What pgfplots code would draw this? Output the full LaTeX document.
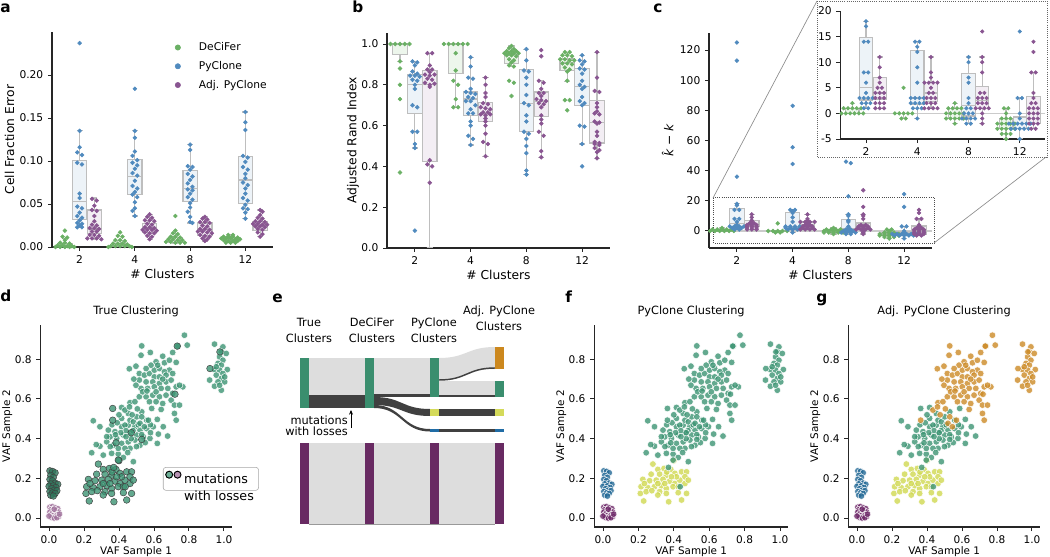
\documentclass[border=0pt]{standalone}
\usepackage{fontspec}
\setmainfont{DejaVu Sans}
\usepackage{pgfplots}
\pgfplotsset{compat=1.18}
\usepackage{pgfplotstable}
\usepgfplotslibrary{statistics}
\usetikzlibrary{arrows.meta}

\definecolor{cG}{RGB}{106,176,100}
\definecolor{cB}{RGB}{80,138,190}
\definecolor{cP}{RGB}{137,85,145}
\definecolor{boxgray}{RGB}{190,190,190}
\definecolor{sGreen}{RGB}{60,148,115}
\definecolor{sPurple}{RGB}{110,40,105}
\definecolor{sBlue}{RGB}{35,105,150}
\definecolor{sYellow}{RGB}{208,216,80}
\definecolor{sOrange}{RGB}{204,138,38}
\definecolor{kGreen}{RGB}{58,142,110}
\definecolor{kPurple}{RGB}{104,42,98}
\definecolor{kYellow}{RGB}{212,218,90}
\definecolor{kBlue}{RGB}{32,108,165}
\definecolor{kOrange}{RGB}{204,136,30}
\definecolor{kLight}{RGB}{221,221,221}
\definecolor{kDark}{RGB}{64,64,64}

\newcommand\fT{\fontsize{8}{9.5}\selectfont}
\newcommand\fL{\fontsize{9.2}{10.5}\selectfont}
\newcommand\fTb{\fontsize{7.9}{9}\selectfont}
\newcommand\fLb{\fontsize{7.8}{9}\selectfont}

\pgfplotsset{
 swb/.style={
  scale only axis, anchor=south west,
  axis x line*=bottom, axis y line*=left,
  axis line style={black!85, line width=0.8pt, -},
  tick align=outside, major tick length=3pt,
  tick style={black!85, line width=0.7pt},
  tick label style={font=\fT},
  label style={font=\fL},
  xlabel shift=-3pt,
  /pgf/number format/assume math mode=true,
 },
 cat/.style={xmin=-0.5,xmax=3.5, xtick={0,1,2,3}, xticklabels={2,4,8,12}, xlabel={\# Clusters}},
 vaf/.style={swb, xmin=-0.05, xmax=1.046, ymin=-0.045, ymax=0.971,
  xtick={0,0.2,0.4,0.6,0.8,1.0}, ytick={0,0.2,0.4,0.6,0.8},
  xticklabel style={/pgf/number format/.cd,fixed,fixed zerofill,precision=1},
  yticklabel style={/pgf/number format/.cd,fixed,fixed zerofill,precision=1},
  tick label style={font=\fTb}, label style={font=\fLb},
  xlabel shift=-4.5pt, ylabel shift=-5pt,
  title style={font=\fontsize{8.5}{10}\selectfont, yshift=-3pt},
  xlabel={VAF Sample 1}, ylabel={VAF Sample 2}},
}

% box: position, lw, q1, med, q3, uw, fill
\newcommand\bx[7]{\addplot[boxplot prepared={draw direction=y,draw position=#1,lower whisker=#2,lower quartile=#3,median=#4,upper quartile=#5,upper whisker=#6,box extend=0.26,whisker extend=0.11}, draw=boxgray, fill=#7, line width=0.9pt] coordinates {};}
% swarm: table, hue offset, colour, size
\newcommand\sw[4]{\addplot[#3, only marks, mark=*, mark size=#4, mark options={solid, fill=#3, draw=none}] table[x expr={\thisrow{c}+(#2)+0.085*\thisrow{d}}, y=y] {#1};}
% scatter: table, fill, edge
\newcommand\scat[3]{\addplot[only marks, mark=*, mark size=2.5pt, mark options={fill=#2, fill opacity=0.8, draw=#3, line width=0.35pt}] table[x=x,y=y] {#1};}
\newcommand\rect[5]{\addplot[fill=#5, draw=none] coordinates {(#1,#2) (#3,#2) (#3,#4) (#1,#4)};}
\newcommand\lgdot[1]{\addlegendimage{legend image code/.code={\fill[#1] (0cm,0cm) circle (2pt); \path (0.48cm,0cm);}}}

% ---------------- panel a data
\pgfplotstableread[row sep=\\]{c d y\\
0 0 0.019\\ 0 -0.5 0.012\\ 0 0.5 0.011\\ 0 0 0.008\\ 0 -1 0.005\\ 0 0 0.005\\ 0 1 0.004\\ 0 -1.5 0.002\\ 0 -0.5 0.002\\ 0 0.5 0.001\\ 0 1.5 0.001\\ 0 -2 0.000\\ 0 -1 0.000\\ 0 0 0.000\\ 0 1 0.000\\ 0 2 0.000\\
1 0 0.017\\ 1 -0.5 0.013\\ 1 0.5 0.012\\ 1 -1 0.008\\ 1 0 0.008\\ 1 1 0.007\\ 1 -1.5 0.004\\ 1 -0.5 0.004\\ 1 0.5 0.004\\ 1 1.5 0.003\\ 1 -2 0.001\\ 1 -1 0.001\\ 1 0 0.001\\ 1 1 0.001\\ 1 2 0.001\\ 1 -2.5 0.000\\ 1 2.5 0.000\\
2 0 0.036\\ 2 0 0.019\\ 2 -0.5 0.016\\ 2 0.5 0.015\\ 2 -1 0.012\\ 2 0 0.012\\ 2 1 0.011\\ 2 -1.5 0.009\\ 2 -0.5 0.009\\ 2 0.5 0.008\\ 2 1.5 0.008\\ 2 -2 0.006\\ 2 -1 0.006\\ 2 0 0.005\\ 2 1 0.005\\ 2 2 0.005\\
3 -0.5 0.014\\ 3 0.5 0.014\\ 3 -1.5 0.012\\ 3 -0.5 0.012\\ 3 0.5 0.012\\ 3 1.5 0.011\\ 3 -2 0.010\\ 3 -1 0.010\\ 3 0 0.010\\ 3 1 0.009\\ 3 2 0.009\\ 3 -1.5 0.008\\ 3 -0.5 0.007\\ 3 0.5 0.007\\ 3 1.5 0.007\\ 3 -1 0.005\\ 3 0 0.005\\ 3 1 0.005\\
}\aG
\pgfplotstableread[row sep=\\]{c d y\\
0 0 0.237\\ 0 0 0.135\\ 0 0 0.116\\ 0 -0.5 0.110\\ 0 0.5 0.107\\ 0 -0.5 0.098\\ 0 0.5 0.096\\ 0 0 0.062\\ 0 0 0.057\\ 0 -0.5 0.047\\ 0 0.5 0.045\\ 0 0 0.040\\ 0 -0.5 0.036\\ 0 0.5 0.034\\ 0 0 0.031\\ 0 -0.5 0.028\\ 0 0.5 0.027\\ 0 0 0.025\\ 0 -0.5 0.023\\ 0 0.5 0.023\\
1 0 0.184\\ 1 0 0.135\\ 1 0 0.127\\ 1 0 0.111\\ 1 -0.5 0.106\\ 1 0.5 0.101\\ 1 -0.5 0.098\\ 1 0.5 0.095\\ 1 0 0.091\\ 1 -0.5 0.086\\ 1 0.5 0.083\\ 1 0 0.077\\ 1 -0.5 0.071\\ 1 0.5 0.068\\ 1 0 0.064\\ 1 -0.5 0.061\\ 1 0.5 0.058\\ 1 0 0.052\\ 1 0 0.045\\ 1 -0.5 0.042\\ 1 0 0.036\\
2 0 0.119\\ 2 0 0.113\\ 2 -0.5 0.094\\ 2 0.5 0.093\\ 2 0 0.090\\ 2 -0.5 0.085\\ 2 0.5 0.082\\ 2 0 0.078\\ 2 -0.5 0.074\\ 2 0.5 0.070\\ 2 -0.5 0.067\\ 2 0.5 0.066\\ 2 0 0.062\\ 2 -0.5 0.058\\ 2 0.5 0.055\\ 2 0 0.051\\ 2 0 0.046\\ 2 -0.5 0.041\\ 2 0 0.035\\ 2 0 0.029\\ 2 0.5 0.028\\
3 0 0.157\\ 3 0 0.145\\ 3 0 0.136\\ 3 -0.5 0.106\\ 3 0.5 0.104\\ 3 0 0.099\\ 3 -0.5 0.093\\ 3 0.5 0.090\\ 3 0 0.085\\ 3 0 0.080\\ 3 -0.5 0.075\\ 3 0.5 0.072\\ 3 0 0.068\\ 3 0 0.062\\ 3 -0.5 0.057\\ 3 0.5 0.054\\ 3 0 0.049\\ 3 -0.5 0.045\\ 3 0.5 0.044\\ 3 0 0.040\\ 3 0 0.033\\
}\aB
\pgfplotstableread[row sep=\\]{c d y\\
0 -0.5 0.056\\ 0 0.5 0.054\\ 0 0 0.048\\ 0 -0.5 0.043\\ 0 0.5 0.042\\ 0 0 0.036\\ 0 0 0.030\\ 0 -0.5 0.026\\ 0 0.5 0.025\\ 0 -1 0.022\\ 0 0 0.022\\ 0 1 0.021\\ 0 -0.5 0.018\\ 0 0.5 0.018\\ 0 -1 0.014\\ 0 0 0.014\\ 0 1 0.013\\ 0 -1.5 0.010\\ 0 -0.5 0.010\\ 0 0.5 0.010\\ 0 1.5 0.009\\
1 0 0.038\\ 1 -0.5 0.035\\ 1 0.5 0.034\\ 1 -1 0.031\\ 1 0 0.031\\ 1 1 0.030\\ 1 -0.5 0.027\\ 1 0.5 0.026\\ 1 -1 0.023\\ 1 0 0.023\\ 1 1 0.022\\ 1 -1.5 0.020\\ 1 -0.5 0.020\\ 1 0.5 0.020\\ 1 1.5 0.019\\ 1 -1 0.017\\ 1 0 0.016\\ 1 1 0.016\\ 1 -0.5 0.013\\ 1 0.5 0.012\\ 1 0 0.009\\
2 0 0.035\\ 2 -0.5 0.033\\ 2 0.5 0.032\\ 2 -1 0.029\\ 2 0 0.029\\ 2 1 0.028\\ 2 -0.5 0.025\\ 2 0.5 0.024\\ 2 -1 0.021\\ 2 0 0.021\\ 2 1 0.020\\ 2 -1.5 0.018\\ 2 -0.5 0.018\\ 2 0.5 0.017\\ 2 1.5 0.016\\ 2 -1 0.014\\ 2 0 0.013\\ 2 1 0.012\\ 2 -0.5 0.010\\ 2 0.5 0.009\\ 2 0 0.007\\
3 0 0.043\\ 3 0.5 0.041\\ 3 0 0.037\\ 3 -0.5 0.034\\ 3 0.5 0.033\\ 3 -1 0.030\\ 3 0 0.030\\ 3 1 0.029\\ 3 -1.5 0.027\\ 3 -0.5 0.027\\ 3 0.5 0.026\\ 3 1.5 0.026\\ 3 -1 0.024\\ 3 0 0.024\\ 3 1 0.023\\ 3 -0.5 0.021\\ 3 0.5 0.020\\ 3 -0.5 0.017\\ 3 0.5 0.015\\ 3 0 0.012\\
}\aP
% ---------------- panel b data
\pgfplotstableread[row sep=\\]{c d y\\
0 -2 1.0\\ 0 -1 1.0\\ 0 0 1.0\\ 0 1 1.0\\ 0 2 1.0\\ 0 0 0.915\\ 0 0 0.88\\ 0 0 0.80\\ 0 0 0.73\\ 0 0 0.37\\
1 -2.5 1.0\\ 1 -1.5 1.0\\ 1 -0.5 1.0\\ 1 0.5 1.0\\ 1 1.5 1.0\\ 1 2.5 1.0\\ 1 0 0.955\\ 1 0 0.87\\ 1 -0.5 0.82\\ 1 0.5 0.80\\ 1 0 0.73\\ 1 -0.5 0.69\\ 1 0.5 0.69\\
2 0 0.99\\ 2 -0.5 0.98\\ 2 0.5 0.975\\ 2 -1 0.965\\ 2 0 0.965\\ 2 1 0.965\\ 2 -1.5 0.955\\ 2 -0.5 0.955\\ 2 0.5 0.955\\ 2 1.5 0.955\\ 2 -1 0.945\\ 2 0 0.945\\ 2 1 0.94\\ 2 -0.5 0.925\\ 2 0.5 0.92\\ 2 0 0.91\\ 2 -0.5 0.895\\ 2 0.5 0.89\\ 2 -0.5 0.82\\ 2 0.5 0.81\\ 2 0 0.745\\
3 -0.5 0.96\\ 3 0.5 0.96\\ 3 -1 0.945\\ 3 0 0.945\\ 3 1 0.94\\ 3 -1.5 0.925\\ 3 -0.5 0.925\\ 3 0.5 0.92\\ 3 1.5 0.92\\ 3 -1 0.905\\ 3 0 0.905\\ 3 1 0.90\\ 3 -0.5 0.885\\ 3 0.5 0.875\\ 3 0 0.865\\ 3 0 0.82\\ 3 -0.5 0.725\\ 3 0.5 0.725\\ 3 0 0.675\\
}\bG
\pgfplotstableread[row sep=\\]{c d y\\
0 -0.5 0.915\\ 0 0.5 0.91\\ 0 0 0.895\\ 0 -0.5 0.865\\ 0 0.5 0.855\\ 0 -1 0.845\\ 0 0 0.845\\ 0 1 0.84\\ 0 -0.5 0.825\\ 0 0.5 0.82\\ 0 0 0.80\\ 0 0 0.78\\ 0 -0.5 0.70\\ 0 0.5 0.69\\ 0 -0.5 0.57\\ 0 0.5 0.57\\ 0 0 0.51\\ 0 0 0.49\\ 0 0 0.085\\
1 0 0.935\\ 1 0 0.89\\ 1 -0.5 0.835\\ 1 0.5 0.83\\ 1 0 0.78\\ 1 -1 0.765\\ 1 0 0.76\\ 1 1 0.755\\ 1 -0.5 0.74\\ 1 0.5 0.735\\ 1 -1 0.72\\ 1 0 0.72\\ 1 1 0.70\\ 1 0 0.68\\ 1 -0.5 0.66\\ 1 0.5 0.66\\ 1 0 0.62\\ 1 0 0.60\\ 1 -0.5 0.55\\ 1 0.5 0.535\\ 1 0 0.505\\
2 0 0.975\\ 2 0 0.92\\ 2 -0.5 0.87\\ 2 0.5 0.865\\ 2 0 0.835\\ 2 0 0.80\\ 2 0 0.75\\ 2 -0.5 0.71\\ 2 0.5 0.70\\ 2 0 0.65\\ 2 0 0.62\\ 2 -0.5 0.57\\ 2 0.5 0.56\\ 2 0 0.535\\ 2 0 0.50\\ 2 0 0.465\\ 2 0 0.38\\ 2 0 0.36\\
3 0 0.945\\ 3 -0.5 0.92\\ 3 0.5 0.915\\ 3 0 0.90\\ 3 -0.5 0.88\\ 3 0.5 0.875\\ 3 0 0.855\\ 3 0 0.82\\ 3 -0.5 0.80\\ 3 0.5 0.79\\ 3 0 0.78\\ 3 0 0.74\\ 3 -0.5 0.72\\ 3 0.5 0.71\\ 3 0 0.70\\ 3 -0.5 0.60\\ 3 0.5 0.595\\ 3 0 0.51\\ 3 0 0.40\\
}\bB
\pgfplotstableread[row sep=\\]{c d y\\
0 -0.5 0.955\\ 0 0.5 0.955\\ 0 0 0.895\\ 0 -0.5 0.875\\ 0 0.5 0.875\\ 0 0 0.862\\ 0 -1 0.85\\ 0 0 0.845\\ 0 1 0.85\\ 0 -0.5 0.83\\ 0 0.5 0.825\\ 0 -1 0.81\\ 0 0 0.80\\ 0 1 0.805\\ 0 0 0.79\\ 0 0 0.43\\ 0 -0.5 0.41\\ 0 0.5 0.40\\ 0 0 0.32\\
1 0 0.835\\ 1 0 0.80\\ 1 0 0.76\\ 1 0 0.74\\ 1 -0.5 0.71\\ 1 0.5 0.705\\ 1 -1 0.69\\ 1 0 0.685\\ 1 1 0.68\\ 1 -0.5 0.665\\ 1 0.5 0.665\\ 1 -1 0.655\\ 1 0 0.65\\ 1 1 0.655\\ 1 0 0.635\\ 1 0 0.62\\ 1 0 0.60\\ 1 0 0.56\\ 1 -0.5 0.52\\ 1 0.5 0.51\\ 1 0 0.45\\
2 0 0.97\\ 2 0 0.94\\ 2 -0.5 0.82\\ 2 0.5 0.81\\ 2 0 0.78\\ 2 -0.5 0.76\\ 2 0.5 0.76\\ 2 0 0.745\\ 2 -1 0.73\\ 2 0 0.725\\ 2 1 0.72\\ 2 -0.5 0.71\\ 2 0.5 0.705\\ 2 0 0.69\\ 2 0 0.65\\ 2 0 0.63\\ 2 0 0.61\\ 2 -0.5 0.57\\ 2 0.5 0.55\\ 2 0 0.475\\ 2 0 0.445\\
3 0 0.96\\ 3 0 0.835\\ 3 -0.5 0.77\\ 3 0.5 0.765\\ 3 0 0.71\\ 3 0 0.69\\ 3 0 0.67\\ 3 -0.5 0.66\\ 3 0.5 0.655\\ 3 -0.5 0.62\\ 3 0.5 0.615\\ 3 0 0.61\\ 3 0 0.57\\ 3 0 0.55\\ 3 -0.5 0.52\\ 3 0.5 0.515\\ 3 -0.5 0.51\\ 3 0.5 0.505\\ 3 -0.5 0.49\\ 3 0.5 0.48\\ 3 0 0.47\\ 3 0 0.44\\
}\bP
% ---------------- panel c data
\pgfplotstableread[row sep=\\]{c d y\\
0 0 2\\ 0 -2 1\\ 0 -1 1\\ 0 0 1\\ 0 1 1\\ 0 2 1\\ 0 -2.5 0\\ 0 -1.5 0\\ 0 -0.5 0\\ 0 0.5 0\\ 0 1.5 0\\ 0 2.5 0\\
1 0 5\\ 1 -2 0\\ 1 -1 0\\ 1 0 0\\ 1 1 0\\ 1 2 0\\ 1 -0.5 -1\\ 1 0.5 -1\\
2 0 2\\ 2 -1.5 1\\ 2 -0.5 1\\ 2 0.5 1\\ 2 1.5 1\\ 2 -2 0\\ 2 -1 0\\ 2 0 0\\ 2 1 0\\ 2 2 0\\ 2 -2 -1\\ 2 -1 -1\\ 2 0 -1\\ 2 1 -1\\ 2 2 -1\\ 2 0 -2\\
3 -0.5 1\\ 3 0.5 1\\ 3 0 0\\ 3 -1 -1\\ 3 0 -1\\ 3 1 -1\\ 3 -2 -2\\ 3 -1 -2\\ 3 0 -2\\ 3 1 -2\\ 3 2 -2\\ 3 -2 -3\\ 3 -1 -3\\ 3 0 -3\\ 3 1 -3\\ 3 2 -3\\ 3 -1 -4\\ 3 0 -4\\ 3 1 -4\\ 3 0 -5\\
}\cGt
\pgfplotstableread[row sep=\\]{c d y\\
0 0 125\\ 0 0 113\\ 0 0 36\\ 0 0 18\\ 0 0 17\\ 0 -0.5 14\\ 0 0.5 14\\ 0 -0.5 8\\ 0 0.5 8\\ 0 0 6\\ 0 0 4\\ 0 -1.5 3\\ 0 -0.5 3\\ 0 0.5 3\\ 0 1.5 3\\ 0 -1 2\\ 0 0 2\\ 0 1 2\\ 0 -0.5 1\\ 0 0.5 1\\
1 0 83\\ 1 0 55.5\\ 1 0 44.4\\ 1 -0.5 14\\ 1 0.5 14\\ 1 0 13\\ 1 0 12\\ 1 0 9\\ 1 0 6\\ 1 -1.5 3\\ 1 -0.5 3\\ 1 0.5 3\\ 1 1.5 3\\ 1 -1.5 2\\ 1 -0.5 2\\ 1 0.5 2\\ 1 1.5 2\\ 1 -1 1\\ 1 0 1\\ 1 1 1\\ 1 0 -1\\
2 -0.5 46\\ 2 0.5 45\\ 2 0 23\\ 2 0 11\\ 2 0 10\\ 2 0 7\\ 2 0 6\\ 2 0 3\\ 2 0 2\\ 2 -0.5 1\\ 2 0.5 1\\ 2 -1 0\\ 2 0 0\\ 2 1 0\\ 2 -1.5 -1\\ 2 -0.5 -1\\ 2 0.5 -1\\ 2 1.5 -1\\ 2 -0.5 -2\\ 2 0.5 -2\\
3 0 24.4\\ 3 0 16\\ 3 -0.5 3\\ 3 0.5 3\\ 3 0 0\\ 3 0 -1\\ 3 -2.5 -2\\ 3 -1.5 -2\\ 3 -0.5 -2\\ 3 0.5 -2\\ 3 1.5 -2\\ 3 2.5 -2\\ 3 -2 -3\\ 3 -1 -3\\ 3 0 -3\\ 3 1 -3\\ 3 2 -3\\ 3 0 -5\\
}\cBt
\pgfplotstableread[row sep=\\]{c d y\\
0 0 11\\ 0 0 9\\ 0 0 7\\ 0 0 6\\ 0 -0.5 5\\ 0 0.5 5\\ 0 -1 4\\ 0 0 4\\ 0 1 4\\ 0 -1 3\\ 0 0 3\\ 0 1 3\\ 0 -1 2\\ 0 0 2\\ 0 1 2\\ 0 -1 1\\ 0 0 1\\ 0 1 1\\
1 0 11\\ 1 0 8\\ 1 0 7\\ 1 -1.5 6\\ 1 -0.5 6\\ 1 0.5 6\\ 1 1.5 6\\ 1 0 5\\ 1 -0.5 4\\ 1 0.5 4\\ 1 -1 3\\ 1 0 3\\ 1 1 3\\ 1 -1 2\\ 1 0 2\\ 1 1 2\\ 1 -1.5 1\\ 1 -0.5 1\\ 1 0.5 1\\ 1 1.5 1\\
2 0 27\\ 2 0 16\\ 2 0 11\\ 2 0 10\\ 2 0 8\\ 2 -0.5 4\\ 2 0.5 4\\ 2 -1 3\\ 2 0 3\\ 2 1 3\\ 2 -1 2\\ 2 0 2\\ 2 1 2\\ 2 -1.5 1\\ 2 -0.5 1\\ 2 0.5 1\\ 2 1.5 1\\ 2 0 0\\ 2 0 -1\\ 2 0 -2\\
3 0 14\\ 3 0 12\\ 3 -0.5 8\\ 3 0.5 8\\ 3 0 4\\ 3 0 3\\ 3 -0.5 2\\ 3 0.5 2\\ 3 -1 1\\ 3 0 1\\ 3 1 1\\ 3 -1 0\\ 3 0 0\\ 3 1 0\\ 3 -1 -1\\ 3 0 -1\\ 3 1 -1\\ 3 -1 -2\\ 3 0 -2\\ 3 1 -2\\ 3 -0.5 -3\\ 3 0.5 -3\\
}\cPt
% ---------------- scatter data (VAF sample 1, VAF sample 2)
\pgfplotstableread[row sep=\\]{x y\\
0.005 0.055\\ 0.020 0.058\\ 0.035 0.052\\ 0.050 0.047\\ 0.010 0.042\\ 0.025 0.040\\ 0.040 0.037\\ 0.055 0.030\\ 0.005 0.030\\ 0.020 0.027\\ 0.035 0.024\\ 0.050 0.018\\ 0.010 0.015\\ 0.025 0.012\\ 0.040 0.010\\ 0.055 0.008\\ 0.015 0.003\\ 0.030 0.000\\ 0.045 0.002\\ 0.000 0.010\\ 0.060 0.020\\ 0.030 0.045\\
}\tP
\pgfplotstableread[row sep=\\]{x y\\
0.005 0.238\\ 0.020 0.235\\ 0.035 0.228\\ 0.010 0.215\\ 0.025 0.205\\ 0.005 0.195\\ 0.020 0.188\\ 0.035 0.176\\ 0.050 0.170\\ 0.010 0.172\\ 0.000 0.160\\ 0.025 0.162\\ 0.040 0.154\\ 0.015 0.148\\ 0.030 0.140\\ 0.045 0.138\\ 0.005 0.134\\ 0.020 0.127\\ 0.035 0.124\\ 0.010 0.115\\ 0.025 0.111\\
}\tB
\pgfplotstableread[row sep=\\]{x y\\
0.282 0.272\\ 0.310 0.245\\ 0.345 0.250\\ 0.383 0.245\\ 0.400 0.289\\ 0.272 0.221\\ 0.320 0.221\\ 0.358 0.216\\ 0.406 0.225\\ 0.444 0.233\\ 0.472 0.233\\ 0.225 0.195\\ 0.263 0.188\\ 0.301 0.191\\ 0.339 0.195\\ 0.377 0.186\\ 0.406 0.174\\ 0.434 0.191\\ 0.463 0.174\\ 0.215 0.158\\ 0.253 0.153\\ 0.291 0.158\\ 0.330 0.163\\ 0.358 0.149\\ 0.396 0.158\\ 0.425 0.158\\ 0.211 0.124\\ 0.244 0.133\\ 0.276 0.138\\ 0.320 0.133\\ 0.358 0.124\\ 0.472 0.124\\ 0.230 0.086\\ 0.371 0.082\\ 0.444 0.091\\ 0.415 0.208\\ 0.387 0.208\\ 0.463 0.208\\ 0.425 0.128\\ 0.310 0.116\\ 0.349 0.174\\ 0.310 0.174\\ 0.234 0.174\\ 0.482 0.191\\ 0.360 0.232\\
}\tY
\pgfplotstableread[row sep=\\]{x y\\
0.396 0.292\\ 0.436 0.158\\ 0.370 0.255\\
}\tYG
\pgfplotstableread[row sep=\\]{x y\\
0.415 0.557\\ 0.453 0.527\\ 0.415 0.502\\ 0.530 0.535\\ 0.587 0.552\\ 0.619 0.497\\ 0.596 0.460\\ 0.653 0.460\\ 0.678 0.413\\ 0.625 0.423\\ 0.577 0.401\\ 0.619 0.376\\ 0.253 0.490\\ 0.291 0.460\\ 0.339 0.443\\ 0.377 0.435\\ 0.415 0.460\\ 0.453 0.468\\ 0.491 0.460\\ 0.520 0.443\\ 0.558 0.451\\ 0.349 0.409\\ 0.387 0.401\\ 0.425 0.418\\ 0.463 0.426\\ 0.501 0.418\\ 0.539 0.409\\ 0.330 0.384\\ 0.368 0.367\\ 0.415 0.376\\ 0.453 0.384\\ 0.491 0.393\\ 0.520 0.367\\ 0.291 0.362\\ 0.310 0.317\\ 0.244 0.329\\ 0.358 0.326\\ 0.396 0.322\\ 0.425 0.305\\ 0.482 0.284\\ 0.396 0.351\\ 0.463 0.351\\ 0.434 0.351\\ 0.463 0.493\\ 0.434 0.468\\ 0.482 0.485\\ 0.501 0.510\\ 0.558 0.493\\ 0.400 0.520\\ 0.440 0.440\\ 0.480 0.440\\ 0.510 0.470\\ 0.360 0.470\\ 0.390 0.480\\ 0.330 0.410\\ 0.270 0.370\\ 0.580 0.430\\ 0.550 0.380\\ 0.470 0.400\\ 0.440 0.410\\ 0.410 0.430\\ 0.380 0.420\\ 0.350 0.360\\ 0.500 0.360\\ 0.530 0.420\\ 0.580 0.470\\ 0.450 0.330\\
}\tM
\pgfplotstableread[row sep=\\]{x y\\
0.463 0.581\\ 0.491 0.586\\ 0.434 0.544\\ 0.505 0.550\\ 0.530 0.510\\ 0.568 0.493\\ 0.520 0.477\\ 0.545 0.460\\ 0.475 0.520\\ 0.460 0.560\\
}\tMO
\pgfplotstableread[row sep=\\]{x y\\
0.774 0.921\\ 0.790 0.871\\ 0.736 0.866\\ 0.707 0.834\\ 0.650 0.815\\ 0.660 0.782\\ 0.612 0.787\\ 0.530 0.867\\ 0.579 0.834\\ 0.526 0.820\\ 0.727 0.784\\ 0.688 0.745\\ 0.459 0.752\\ 0.497 0.765\\ 0.516 0.728\\ 0.545 0.720\\ 0.574 0.728\\ 0.602 0.745\\ 0.631 0.753\\ 0.660 0.737\\ 0.602 0.711\\ 0.631 0.711\\ 0.669 0.720\\ 0.707 0.728\\ 0.516 0.695\\ 0.555 0.686\\ 0.593 0.686\\ 0.631 0.678\\ 0.669 0.686\\ 0.698 0.695\\ 0.526 0.653\\ 0.564 0.653\\ 0.602 0.661\\ 0.641 0.653\\ 0.679 0.653\\ 0.727 0.661\\ 0.765 0.661\\ 0.516 0.611\\ 0.555 0.611\\ 0.593 0.619\\ 0.631 0.611\\ 0.669 0.619\\ 0.707 0.628\\ 0.612 0.586\\ 0.650 0.577\\ 0.698 0.594\\ 0.641 0.547\\ 0.717 0.569\\ 0.717 0.527\\ 0.727 0.493\\ 0.746 0.569\\ 0.574 0.586\\ 0.497 0.669\\ 0.583 0.770\\ 0.621 0.770\\ 0.555 0.753\\ 0.688 0.795\\ 0.535 0.636\\ 0.746 0.669\\ 0.612 0.636\\ 0.485 0.700\\ 0.650 0.700\\ 0.560 0.640\\
0.946 0.876\\ 0.994 0.862\\ 0.985 0.837\\ 1.013 0.829\\ 0.975 0.812\\ 0.994 0.795\\ 0.966 0.779\\ 0.985 0.770\\ 0.946 0.748\\ 0.975 0.745\\ 1.019 0.748\\ 0.994 0.728\\ 0.956 0.720\\ 0.985 0.703\\ 0.918 0.695\\ 0.966 0.686\\ 1.004 0.686\\ 0.946 0.664\\ 0.985 0.644\\ 0.975 0.669\\ 1.004 0.711\\ 0.956 0.762\\
}\tO
\pgfplotstableread[row sep=\\]{x y\\
0.364 0.493\\ 0.720 0.624\\ 0.733 0.866\\ 0.920 0.753\\ 0.977 0.837\\
}\tLO
\pgfplotstableread[row sep=\\]{x y\\
0.364 0.552\\ 0.383 0.379\\ 0.470 0.430\\ 0.530 0.396\\
}\tLM

\begin{document}
\begin{tikzpicture}
\useasboundingbox (0,0) rectangle (787.5pt,417.75pt);

% ================= a
\begin{axis}[swb, cat, at={(39pt,232.5pt)}, width=165.75pt, height=161.25pt,
  ymin=0, ymax=0.25, ytick={0,0.05,0.1,0.15,0.2},
  yticklabel style={/pgf/number format/.cd,fixed,fixed zerofill,precision=2},
  ylabel={Cell Fraction Error}, ylabel shift=-3pt,
  legend style={at={(0.555,0.965)}, anchor=north west, draw=none, fill=none, font=\fontsize{8}{9}\selectfont, row sep=2.5pt, inner sep=0pt},
  legend cell align=left]
\lgdot{cG}\addlegendentry{DeCiFer}
\lgdot{cB}\addlegendentry{PyClone}
\lgdot{cP}\addlegendentry{Adj. PyClone}
\bx{-0.267}{0}{0}{0.001}{0.004}{0.010}{cG!12}
\bx{0.733}{0}{0}{0.001}{0.004}{0.008}{cG!12}
\bx{1.733}{0.004}{0.005}{0.008}{0.011}{0.016}{cG!12}
\bx{2.733}{0.005}{0.007}{0.009}{0.011}{0.014}{cG!12}
\bx{0}{0.023}{0.032}{0.053}{0.101}{0.135}{cB!10}
\bx{1}{0.036}{0.061}{0.082}{0.102}{0.135}{cB!10}
\bx{2}{0.028}{0.053}{0.068}{0.089}{0.119}{cB!10}
\bx{3}{0.033}{0.051}{0.078}{0.105}{0.157}{cB!10}
\bx{0.267}{0.009}{0.016}{0.021}{0.043}{0.057}{cP!10}
\bx{1.267}{0.009}{0.017}{0.022}{0.027}{0.038}{cP!10}
\bx{2.267}{0.007}{0.013}{0.020}{0.028}{0.035}{cP!10}
\bx{3.267}{0.012}{0.019}{0.025}{0.030}{0.043}{cP!10}
\sw{\aG}{-0.267}{cG}{1.45pt}
\sw{\aB}{0}{cB}{1.45pt}
\sw{\aP}{0.267}{cP}{1.45pt}
\end{axis}

% ================= b
\begin{axis}[swb, cat, at={(290.25pt,231.75pt)}, width=167.25pt, height=161.25pt,
  ymin=0, ymax=1.054, ytick={0,0.2,0.4,0.6,0.8,1.0},
  yticklabel style={/pgf/number format/.cd,fixed,fixed zerofill,precision=1},
  ylabel={Adjusted Rand Index}, ylabel shift=-5pt]
\bx{-0.267}{0.915}{0.95}{1.0}{1.0}{1.0}{cG!12}
\bx{0.733}{0.69}{0.855}{1.0}{1.0}{1.0}{cG!12}
\bx{1.733}{0.89}{0.905}{0.95}{0.962}{0.99}{cG!12}
\bx{2.733}{0.815}{0.87}{0.91}{0.927}{0.96}{cG!12}
\bx{0}{0.49}{0.66}{0.80}{0.85}{0.915}{cB!10}
\bx{1}{0.505}{0.65}{0.73}{0.765}{0.935}{cB!10}
\bx{2}{0.36}{0.57}{0.71}{0.875}{0.975}{cB!10}
\bx{3}{0.51}{0.70}{0.79}{0.88}{0.945}{cB!10}
\bx{0.267}{0.0}{0.425}{0.80}{0.87}{0.955}{cP!10}
\bx{1.267}{0.45}{0.62}{0.66}{0.715}{0.835}{cP!10}
\bx{2.267}{0.445}{0.645}{0.72}{0.765}{0.82}{cP!10}
\bx{3.267}{0.44}{0.515}{0.615}{0.725}{0.96}{cP!10}
\sw{\bG}{-0.267}{cG}{1.45pt}
\sw{\bB}{0}{cB}{1.45pt}
\sw{\bP}{0.267}{cP}{1.45pt}
\end{axis}

% ================= c main
\begin{axis}[swb, cat, at={(531.75pt,231.75pt)}, width=167.25pt, height=161.25pt,
  ymin=-11.3, ymax=131.3, ytick={0,20,40,60,80,100,120}, clip=false,
  ylabel={\textit{\^{k}} − \textit{k}}, ylabel shift=-2pt]
\addplot[boxgray!80, line width=1pt] coordinates {(-0.5,0) (3.5,0)};
\bx{-0.267}{0}{0}{1}{1}{2}{cG!12}
\bx{0.733}{-1}{0}{0}{0}{0}{cG!12}
\bx{1.733}{-2}{-1}{0}{1}{2}{cG!12}
\bx{2.733}{-5}{-3}{-2}{-1}{1}{cG!12}
\bx{0}{1}{2.6}{5}{14.8}{18}{cB!10}
\bx{1}{-1}{1.7}{3}{12.3}{14}{cB!10}
\bx{2}{-2}{-0.5}{1.5}{7.8}{11}{cB!10}
\bx{3}{-5}{-3}{-2}{-0.7}{3}{cB!10}
\bx{0.267}{1}{2.7}{4}{7}{11}{cP!10}
\bx{1.267}{1}{2.3}{4}{6}{11}{cP!10}
\bx{2.267}{-2}{1}{2.5}{5.3}{11}{cP!10}
\bx{3.267}{-3}{-2}{0}{3.3}{8}{cP!10}
\sw{\cGt}{-0.267}{cG}{1.45pt}
\sw{\cBt}{0}{cB}{1.45pt}
\sw{\cPt}{0.267}{cP}{1.45pt}
\draw[black!70, densely dotted, line width=0.6pt] (-0.42,-8) rectangle (3.55,22);
\end{axis}
\draw[black!45, line width=0.5pt] (534.75pt,269.25pt) -- (612.75pt,417pt);
\draw[black!45, line width=0.5pt] (700.5pt,235.5pt) -- (784.5pt,300pt);
\fill[white] (612.75pt,300pt) rectangle (785.25pt,417pt);
\draw[black!60, densely dotted, line width=0.6pt] (612.75pt,300pt) rectangle (785.25pt,417pt);

% ================= c inset
\begin{axis}[swb, cat, xlabel={}, at={(630.3pt,313.5pt)}, width=153.75pt, height=96pt,
  ymin=-5, ymax=20, ytick={-5,0,5,10,15,20}]
\addplot[boxgray!80, line width=1pt] coordinates {(-0.5,0) (3.5,0)};
\bx{-0.267}{0}{0}{1}{1}{2}{cG!12}
\bx{0.733}{-1}{0}{0}{0}{0}{cG!12}
\bx{1.733}{-2}{-1}{0}{1}{2}{cG!12}
\bx{2.733}{-5}{-3}{-2}{-1}{1}{cG!12}
\bx{0}{1}{2.6}{5}{14.8}{18}{cB!10}
\bx{1}{-1}{1.7}{3}{12.3}{14}{cB!10}
\bx{2}{-2}{-0.5}{1.5}{7.8}{11}{cB!10}
\bx{3}{-5}{-3}{-2}{-0.7}{3}{cB!10}
\bx{0.267}{1}{2.7}{4}{7}{11}{cP!10}
\bx{1.267}{1}{2.3}{4}{6}{11}{cP!10}
\bx{2.267}{-2}{1}{2.5}{5.3}{11}{cP!10}
\bx{3.267}{-3}{-2}{0}{3.3}{8}{cP!10}
\sw{\cGt}{-0.267}{cG}{1.35pt}
\sw{\cBt}{0}{cB}{1.35pt}
\sw{\cPt}{0.267}{cP}{1.35pt}
\end{axis}

% ================= d
\begin{axis}[vaf, at={(30.2pt,22.5pt)}, width=143.8pt, height=151.3pt, title={True Clustering},
  legend style={at={(0.64,0.297)}, anchor=north west, draw=black!35, rounded corners=2pt, fill=white, font=\fontsize{9.5}{12.5}\selectfont, inner sep=1.5pt},
  legend cell align=left]
\addlegendimage{legend image code/.code={
  \fill[sGreen!75] (0.12cm,0.11cm) circle (2.6pt); \draw[black, line width=0.7pt] (0.12cm,0.11cm) circle (2.6pt);
  \fill[sPurple!50] (0.34cm,0.11cm) circle (2.6pt); \draw[black, line width=0.7pt] (0.34cm,0.11cm) circle (2.6pt);}}
\addlegendentry{\begin{tabular}[t]{@{}l@{}}mutations\\with losses\end{tabular}}
\scat{\tM}{sGreen}{white}
\scat{\tO}{sGreen}{white}
\scat{\tMO}{sGreen}{white}
\scat{\tY}{sGreen}{black!75}
\scat{\tYG}{sGreen}{black!75}
\scat{\tLM}{sGreen}{black!75}
\scat{\tLO}{sGreen}{black!75}
\scat{\tB}{sGreen!80!black}{black!75}
\scat{\tP}{sPurple!65}{white}
\end{axis}

% ================= e (sankey)
\begin{axis}[at={(210pt,20.25pt)}, anchor=south west, scale only axis, width=195pt, height=150pt,
  xmin=280, xmax=540, ymin=330, ymax=530, y dir=reverse, hide axis, clip=false]
\rect{309}{358}{365}{395}{kLight}
\rect{309}{395}{365}{408}{kDark}
\rect{309}{443}{365}{524}{kLight}
\rect{374}{358}{430}{394}{kLight}
\rect{374}{394}{430}{397}{kDark}
\fill[kDark] (374,397) .. controls (402,397) and (402,409) .. (430,409) -- (430,416) .. controls (402,416) and (402,405) .. (374,405) -- cycle;
\fill[kDark] (374,405) .. controls (402,405) and (402,429) .. (430,429) -- (430,431.5) .. controls (402,431.5) and (402,408) .. (374,408) -- cycle;
\rect{374}{443}{430}{524}{kLight}
\fill[kLight] (439,358) .. controls (467,358) and (467,347) .. (495,347) -- (495,369) .. controls (467,369) and (467,380) .. (439,380) -- cycle;
\rect{439}{381}{495}{395}{kLight}
\rect{439}{395}{495}{397}{kDark}
\draw[kDark, line width=1.1pt] (439,380) .. controls (467,380) and (467,368) .. (495,368);
\rect{439}{409}{495}{416}{kDark}
\rect{439}{429}{495}{431.5}{kDark}
\rect{439}{443}{495}{524}{kLight}
\draw[black!40, line width=0.6pt] (309,524) -- (495,524);
% bars
\rect{300}{358}{309}{408}{kGreen}
\rect{300}{443}{309}{524}{kPurple}
\rect{365}{358}{374}{408}{kGreen}
\rect{365}{443}{374}{524}{kPurple}
\rect{430}{358}{439}{397}{kGreen}
\rect{430}{409}{439}{416}{kYellow}
\rect{430}{429}{439}{431.5}{kBlue}
\rect{430}{443}{439}{524}{kPurple}
\rect{495}{347}{504}{369}{kOrange}
\rect{495}{381}{504}{397}{kGreen}
\rect{495}{409}{504}{416}{kYellow}
\rect{495}{429}{504}{431.5}{kBlue}
\rect{495}{443}{504}{524}{kPurple}
\node[align=center, font=\fontsize{8.5}{12}\selectfont] at (309,330) {True\\Clusters};
\node[align=center, font=\fontsize{8.5}{12}\selectfont] at (372,330) {DeCiFer\\Clusters};
\node[align=center, font=\fontsize{8.5}{12}\selectfont] at (434,330) {PyClone\\Clusters};
\node[align=center, font=\fontsize{8.5}{12}\selectfont] at (499,318) {Adj. PyClone\\Clusters};
\node[align=right, anchor=east, inner sep=0pt, font=\fontsize{8.5}{8.3}\selectfont] at (348,426) {mutations\\with losses};
\draw[-{Stealth[length=3.5pt,width=3pt]}, line width=0.6pt] (351,428) -- (351,410);
\end{axis}

% ================= f
\begin{axis}[vaf, at={(445.6pt,22.5pt)}, width=145.5pt, height=151.3pt, title={PyClone Clustering}]
\scat{\tM}{sGreen}{white}
\scat{\tO}{sGreen}{white}
\scat{\tMO}{sGreen}{white}
\scat{\tLM}{sGreen}{white}
\scat{\tLO}{sGreen}{white}
\scat{\tY}{sYellow}{white}
\scat{\tYG}{sGreen}{white}
\scat{\tB}{sBlue}{white}
\scat{\tP}{sPurple}{white}
\end{axis}

% ================= g
\begin{axis}[vaf, at={(636.2pt,22.5pt)}, width=143.8pt, height=151.3pt, title={Adj. PyClone Clustering}]
\scat{\tO}{sOrange}{white}
\scat{\tM}{sGreen}{white}
\scat{\tMO}{sOrange}{white}
\scat{\tLM}{sGreen}{white}
\scat{\tLO}{sOrange}{white}
\scat{\tY}{sYellow}{white}
\scat{\tYG}{sGreen}{white}
\scat{\tB}{sBlue}{white}
\scat{\tP}{sPurple}{white}
\end{axis}

% panel letters
\begin{scope}[every node/.style={anchor=base west, inner sep=0pt, font=\fontsize{11.5}{12}\bfseries\selectfont}]
\node at (0pt,408pt) {a};
\node at (264pt,408pt) {b};
\node at (489.75pt,408pt) {c};
\node at (0pt,191.25pt) {d};
\node at (204pt,190.5pt) {e};
\node at (423.75pt,190.5pt) {f};
\node at (612pt,190.5pt) {g};
\end{scope}
\end{tikzpicture}
\end{document}
